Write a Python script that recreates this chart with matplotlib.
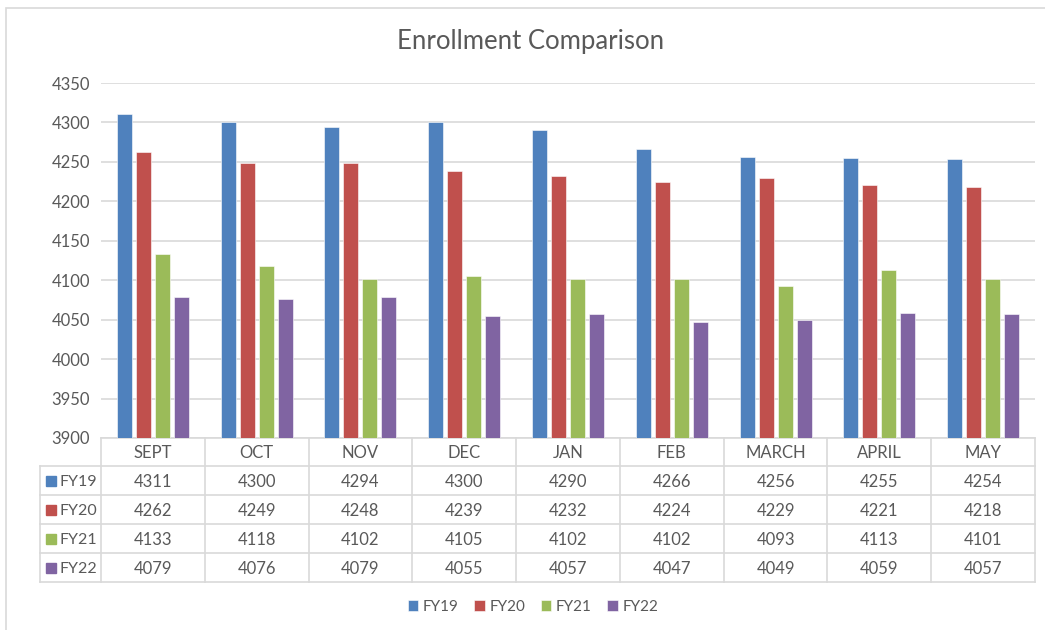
import numpy as np
import matplotlib.pyplot as plt
from matplotlib.patches import Rectangle
from matplotlib.transforms import blended_transform_factory

# Dados do gráfico
months = ["SEPT", "OCT", "NOV", "DEC", "JAN", "FEB", "MARCH", "APRIL", "MAY"]
series_names = ["FY19", "FY20", "FY21", "FY22"]
fy19 = [4311, 4300, 4294, 4300, 4290, 4266, 4256, 4255, 4254]
fy20 = [4262, 4249, 4248, 4239, 4232, 4224, 4229, 4221, 4218]
fy21 = [4133, 4118, 4102, 4105, 4102, 4102, 4093, 4113, 4101]
fy22 = [4079, 4076, 4079, 4055, 4057, 4047, 4049, 4059, 4057]
colors = ["#4F81BD", "#C0504D", "#9BBB59", "#8064A2"]

plt.rcParams['font.family'] = ['Lato', 'DejaVu Sans']
txt = "#595959"
grid = "#d9d9d9"

fig = plt.figure(figsize=(10.45, 6.3), dpi=100)
W, H = 1045, 630

# borda externa do gráfico (lado direito e inferior ficam fora da imagem)
fig.patches.append(Rectangle((6 / W, -0.1), 1.2, 1.1 - 8 / H, transform=fig.transFigure,
                             fill=False, edgecolor=grid, linewidth=1.2))

ax = fig.add_axes([101 / W, 1 - 438 / H, 934 / W, 355 / H])
x = np.arange(len(months))
step = 0.183
width = 0.145
data = [fy19, fy20, fy21, fy22]
for i, (vals, c, name) in enumerate(zip(data, colors, series_names)):
    ax.bar(x + (i - 1.5) * step, np.array(vals) - 3900, bottom=3900, width=width,
           color=c, edgecolor="white", linewidth=0.4, label=name, zorder=3)

ax.set_xlim(-0.5, len(months) - 0.5)
ax.set_ylim(3900, 4350)
ax.set_yticks(np.arange(3900, 4351, 50))
ax.grid(axis="y", color=grid, linewidth=1.2, zorder=0)
ax.set_xticks([])
for s in ax.spines.values():
    s.set_visible(False)
ax.tick_params(axis="y", length=0, pad=8, labelsize=12, labelcolor=txt)

fig.text(531 / W, 1 - 42 / H, "Enrollment Comparison", ha="center", va="center",
         fontsize=18.5, color=txt)

# Tabela de dados abaixo do eixo
tr = blended_transform_factory(ax.transData, ax.transAxes)
px = 1 / 355  # um pixel em coordenadas do eixo (vertical)
row_h = 29 * px
header_bot = -28 * px
table_bot = header_bot - 4 * row_h
lw = 1.2

# linhas horizontais
ax.plot([-0.5, 8.5], [0, 0], color=grid, lw=lw, transform=tr, clip_on=False)
left_x = -0.5 - 61 / (934 / 9)
for k in range(5):
    yy = header_bot - k * row_h
    ax.plot([left_x, 8.5], [yy, yy], color=grid, lw=lw, transform=tr, clip_on=False)
# linhas verticais
for b in np.arange(-0.5, 9.0, 1.0):
    ax.plot([b, b], [0, table_bot], color=grid, lw=lw, transform=tr, clip_on=False)
ax.plot([left_x, left_x], [header_bot, table_bot], color=grid, lw=lw, transform=tr, clip_on=False)

for j, m in enumerate(months):
    ax.text(j, header_bot / 2 - 1 * px, m, ha="center", va="center", fontsize=12, color=txt,
            transform=tr)
for i, (vals, c, name) in enumerate(zip(data, colors, series_names)):
    yc = header_bot - (i + 0.5) * row_h
    for j, v in enumerate(vals):
        ax.text(j, yc - 1.5 * px, str(v), ha="center", va="center", fontsize=12, color=txt,
                transform=tr)
    ax.text(left_x + 0.19, yc - 1.5 * px, name, ha="left", va="center", fontsize=11.5,
            color=txt, transform=tr)
    sq = 10 / (934 / 9)
    ax.add_patch(Rectangle((left_x + 0.06, yc - 5 * px), sq, 10 * px, transform=tr,
                           color=c, clip_on=False))

fig.legend(loc="center", bbox_to_anchor=(533 / W, 1 - 607 / H), ncol=4, frameon=False,
           handlelength=0.7, handleheight=0.7, handletextpad=0.3, columnspacing=1.0,
           fontsize=11, labelcolor=txt)

fig.savefig("out.png", dpi=100, facecolor="white")
